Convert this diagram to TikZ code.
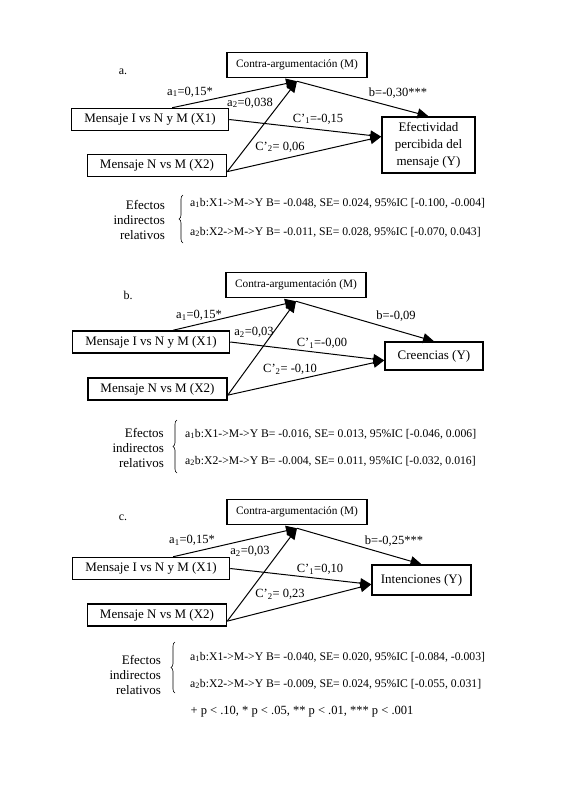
\documentclass[tikz,border=0pt]{standalone}
\usepackage{fontspec}
\setmainfont{Liberation Serif}
\usetikzlibrary{arrows.meta,decorations.pathreplacing}
\begin{document}
\begin{tikzpicture}[x=1pt,y=-1pt,
    var/.style={draw,line width=1.5pt,inner sep=2pt,minimum height=22pt,font=\fontsize{13}{17}\selectfont},
    med/.style={var,minimum width=140pt,minimum height=25pt,font=\fontsize{11.3}{13}\selectfont},
    eff/.style={-{Triangle[length=11pt,width=10pt]},line width=1pt},
    coef/.style={inner sep=0pt,font=\fontsize{12.5}{14}\selectfont},
    tag/.style={inner sep=0pt,font=\fontsize{12}{14}\selectfont},
    ind/.style={align=right,anchor=east,inner sep=0pt,font=\fontsize{13}{15}\selectfont},
    res/.style={anchor=west,inner sep=0pt,font=\fontsize{11.7}{14}\selectfont},
    bracket/.style={decorate,decoration={brace,amplitude=4pt},line width=0.6pt}]
  \useasboundingbox (0,0) rectangle (564,785);
  % panel a
  \node[tag] (taga) at (123,72) {a.};
  \node[med] (Ma) at (297,65) {Contra-argumentación (M)};
  \node[var,minimum width=157pt] (X1a) at (150,119.5) {Mensaje I vs N y M (X1)};
  \node[var,minimum width=139pt] (X2a) at (157,165.5) {Mensaje N vs M (X2)};
  \node[var,minimum width=93pt,minimum height=56pt,align=center] (Ya) at (428.5,145) {Efectividad\\percibida del\\mensaje (Y)};
  \draw[eff] (X1a.28) -- ([yshift=-3pt]Ma.south);
  \draw[eff] (X2a.-5) -- ([yshift=-3pt]Ma.south);
  \draw[eff] ([yshift=-3pt]Ma.south) -- (Ya.north);
  \draw[eff] (X1a.east) -- (Ya.170);
  \draw[eff] (X2a.-5) -- (Ya.170);
  \node[coef] (a1a) at (190,92) {a\textsubscript{1}=0,15*};
  \node[coef] (a2a) at (250,103) {a\textsubscript{2}=0,038};
  \node[coef] (ba) at (398,93) {b=-0,30***};
  \node[coef] (c1a) at (318,119) {C’\textsubscript{1}=-0,15};
  \node[coef] (c2a) at (280,147) {C’\textsubscript{2}= 0,06};
  \node[ind] (Ia) at (165,220) {Efectos\\indirectos\\relativos};
  \node[res] (E1a) at (190,203) {a\textsubscript{1}b:X1->M->Y B= -0.048, SE= 0.024, 95\%IC [-0.100, -0.004]};
  \node[res] (E2a) at (190,232) {a\textsubscript{2}b:X2->M->Y B= -0.011, SE= 0.028, 95\%IC [-0.070, 0.043]};
  \draw[bracket] (183,243) -- (183,195);
  % panel b
  \node[tag] (tagb) at (128,295) {b.};
  \node[med] (Mb) at (296,285) {Contra-argumentación (M)};
  \node[var,minimum width=157pt] (X1b) at (151,342) {Mensaje I vs N y M (X1)};
  \node[var,minimum width=139pt] (X2b) at (157.5,389) {Mensaje N vs M (X2)};
  \node[var,minimum width=98pt,minimum height=28pt] (Yb) at (434,356) {Creencias (Y)};
  \draw[eff] (X1b.28) -- ([yshift=-3pt]Mb.south);
  \draw[eff] (X2b.-5) -- ([yshift=-3pt]Mb.south);
  \draw[eff] ([yshift=-3pt]Mb.south) -- (Yb.north);
  \draw[eff] (X1b.east) -- (Yb.-175);
  \draw[eff] (X2b.-5) -- (Yb.-175);
  \node[coef] (a1b) at (199,315) {a\textsubscript{1}=0,15*};
  \node[coef] (a2b) at (254,332) {a\textsubscript{2}=0,03};
  \node[coef] (bb) at (396,316) {b=-0,09};
  \node[coef] (c1b) at (322,343) {C’\textsubscript{1}=-0,00};
  \node[coef] (c2b) at (290,369) {C’\textsubscript{2}= -0,10};
  \node[ind] (Ib) at (164,448) {Efectos\\indirectos\\relativos};
  \node[res] (E1b) at (185,434) {a\textsubscript{1}b:X1->M->Y B= -0.016, SE= 0.013, 95\%IC [-0.046, 0.006]};
  \node[res] (E2b) at (185,461) {a\textsubscript{2}b:X2->M->Y B= -0.004, SE= 0.011, 95\%IC [-0.032, 0.016]};
  \draw[bracket] (177,473) -- (177,420);
  % panel c
  \node[tag] (tagc) at (123,518) {c.};
  \node[med] (Mc) at (297,512) {Contra-argumentación (M)};
  \node[var,minimum width=157pt] (X1c) at (151,568.5) {Mensaje I vs N y M (X1)};
  \node[var,minimum width=139pt] (X2c) at (157,615) {Mensaje N vs M (X2)};
  \node[var,minimum width=99pt,minimum height=30pt] (Yc) at (421.5,580) {Intenciones (Y)};
  \draw[eff] (X1c.28) -- ([yshift=-3pt]Mc.south);
  \draw[eff] (X2c.-5) -- ([yshift=-3pt]Mc.south);
  \draw[eff] ([yshift=-3pt]Mc.south) -- (Yc.north);
  \draw[eff] (X1c.east) -- (Yc.-175);
  \draw[eff] (X2c.-5) -- (Yc.-175);
  \node[coef] (a1c) at (192,540) {a\textsubscript{1}=0,15*};
  \node[coef] (a2c) at (250,551) {a\textsubscript{2}=0,03};
  \node[coef] (bc) at (394,541) {b=-0,25***};
  \node[coef] (c1c) at (320,569) {C’\textsubscript{1}=0,10};
  \node[coef] (c2c) at (280,594) {C’\textsubscript{2}= 0,23};
  \node[ind] (Ic) at (161,675) {Efectos\\indirectos\\relativos};
  \node[res] (E1c) at (190,657) {a\textsubscript{1}b:X1->M->Y B= -0.040, SE= 0.020, 95\%IC [-0.084, -0.003]};
  \node[res] (E2c) at (190,684) {a\textsubscript{2}b:X2->M->Y B= -0.009, SE= 0.024, 95\%IC [-0.055, 0.031]};
  \draw[bracket] (175,693) -- (175,642);
  % note
  \node[tag,font=\fontsize{12.5}{15}\selectfont] (note) at (302,712) {+ p < .10, * p < .05, ** p < .01, *** p < .001};
\end{tikzpicture}
\end{document}
